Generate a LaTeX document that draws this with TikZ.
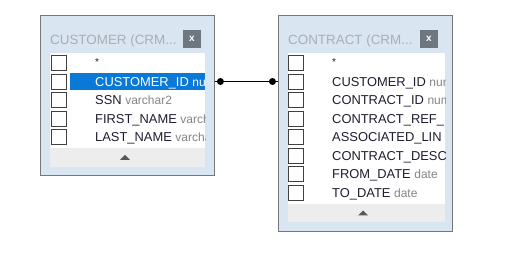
\documentclass[tikz,border=0pt]{standalone}
\usepackage{fontspec}
\setmainfont{Liberation Sans}
\usetikzlibrary{calc}
\definecolor{framebl}{HTML}{DAE5F2}
\definecolor{wingray}{HTML}{777777}
\definecolor{chkgray}{HTML}{404040}
\definecolor{selblue}{HTML}{0A78D7}
\definecolor{coltxt}{HTML}{1E1E32}
\definecolor{typtxt}{HTML}{858585}
\definecolor{titletxt}{HTML}{A8AEB6}
\definecolor{btngray}{HTML}{6E7780}
\definecolor{scrollgr}{HTML}{EDEDED}
\tikzstyle{win}=[shape=rectangle, draw=wingray, line width=1pt, fill=framebl, inner sep=0]
\tikzstyle{chk}=[shape=rectangle, minimum size=15pt, draw=chkgray, line width=1pt, fill=white, inner sep=0]
\tikzstyle{col}=[anchor=base west, inner sep=0, text=coltxt, font=\fontsize{12.9}{15}\selectfont]
\tikzstyle{title}=[anchor=west, inner sep=0, text=titletxt, font=\fontsize{13.4}{15}\selectfont]
\tikzstyle{closebtn}=[shape=rectangle, minimum size=18pt, fill=btngray, inner sep=0, text=white, font=\fontsize{10}{10}\bfseries]
\tikzstyle{dot}=[shape=circle, minimum size=7pt, inner sep=0, fill=black]

\begin{document}
\begin{tikzpicture}[x=1pt, y=-1pt]
\useasboundingbox (0,0) rectangle (525,253);
% windows
\node[win, minimum width=174pt, minimum height=160pt] (customer) at (127,96) {};
\node[win, minimum width=174pt, minimum height=216pt] (contract) at (365,124) {};
\node[title] (custtitle) at (50,41) {CUSTOMER (CRM...};
\node[title] (contrtitle) at (288,41) {CONTRACT (CRM...};
\node[closebtn] (custclose) at (192,39) {x};
\node[closebtn] (contrclose) at (429,39) {x};
\fill[white] (50,53) rectangle (205,167);
\fill[white] (288,53) rectangle (445,222);
\fill[scrollgr] (50,148) rectangle (205,167);
\fill[scrollgr] (288,204) rectangle (445,222);
\fill[black!65] (120,160) -- (130,160) -- (125,155) -- cycle;
\fill[black!65] (358,215.5) -- (368,215.5) -- (363,210.5) -- cycle;
% customer columns
\begin{scope}
\clip (50,53) rectangle (205,167);
\fill[selblue] (70,73) rectangle (205,90);
\foreach \x in {0,...,4}
{
\node[chk] (cc\x) at (58.5,63.5+18.5*\x) {};
}
\node[col, font=\fontsize{10}{10}\selectfont] (custstar) at (95,66) {*};
\node[col, text=white] (custid) at (95,86.5) {CUSTOMER\_ID \textcolor{white}{\fontsize{12}{14}\selectfont number}};
\foreach \x/\n/\t in {2/SSN/varchar2,3/FIRST\_NAME/varchar2,4/LAST\_NAME/varchar2}
{
\node[col] (cn\x) at (95,68+18.5*\x) {\n\ \textcolor{typtxt}{\fontsize{12}{14}\selectfont\t}};
}
\end{scope}
% contract columns
\begin{scope}
\clip (288,53) rectangle (445,222);
\foreach \x in {0,...,7}
{
\node[chk] (kc\x) at (296,63.5+18.5*\x) {};
}
\node[col, font=\fontsize{10}{10}\selectfont] (contrstar) at (332,66) {*};
\foreach \x/\n/\t in {1/CUSTOMER\_ID/number,2/CONTRACT\_ID/number,3/CONTRACT\_REF\_/,4/ASSOCIATED\_LIN/,5/CONTRACT\_DESC/,6/FROM\_DATE/date,7/TO\_DATE/date}
{
\node[col] (kn\x) at (332,68+18.5*\x) {\n\ \textcolor{typtxt}{\fontsize{12}{14}\selectfont\t}};
}
\end{scope}
% relation
\coordinate (custlink) at (customer.east |- 0,81.5);
\coordinate (contrlink) at (contract.west |- 0,81.5);
\draw[line width=1.3pt] (custlink) -- (contrlink) node[dot, pos=0.094] {} node[dot, pos=0.92] {};
\end{tikzpicture}
\end{document}
